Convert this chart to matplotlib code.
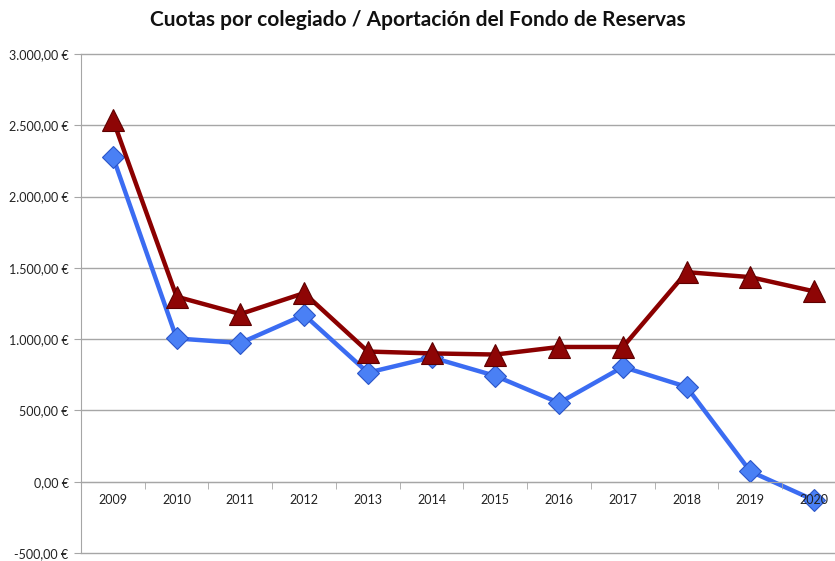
import matplotlib
matplotlib.use("Agg")
import matplotlib.pyplot as plt
from matplotlib.ticker import FuncFormatter, FixedLocator
import numpy as np

years = ["2009", "2010", "2011", "2012", "2013", "2014", "2015", "2016",
         "2017", "2018", "2019", "2020"]
cuotas = [2280, 1005, 973, 1170, 765, 872, 742, 553, 805, 665, 72, -130]
aportacion = [2540, 1298, 1176, 1323, 913, 900, 892, 945, 945, 1470, 1435, 1335]
yticks = [-500, 0, 500, 1000, 1500, 2000, 2500, 3000]

plt.rcParams['font.family'] = ['Lato', 'DejaVu Sans']

fig = plt.figure(figsize=(8.35, 5.61), dpi=100)
ax = fig.add_axes([81/835, 1-553/561, (846-81)/835, (553-54)/561])

x = np.arange(len(years))
ax.plot(x, cuotas, color='#3B6CF2', lw=3.2, marker='D', ms=11,
        markerfacecolor='#4A80F5', markeredgecolor='#2A55C8', markeredgewidth=0.8,
        zorder=2.3, solid_joinstyle='round')
ax.plot(x, aportacion, color='#8B0000', lw=3.2, marker='^', ms=16,
        markerfacecolor='#8E0505', markeredgecolor='#5E0000', markeredgewidth=0.8,
        zorder=2.4, solid_joinstyle='round')

ax.set_xlim(-0.5, len(years) - 0.5)
ax.set_ylim(-500, 3000)
ax.set_yticks(yticks)

def fmt(v, pos):
    s = f"{abs(v):,.2f}".replace(",", "X").replace(".", ",").replace("X", ".")
    return ("-" if v < 0 else "") + s + " €"
ax.yaxis.set_major_formatter(FuncFormatter(fmt))
ax.grid(axis='y', color='#A6A6A6', lw=1, clip_on=False)
ax.set_axisbelow(True)
ax.xaxis.set_zorder(5)

for s in ['top', 'right']:
    ax.spines[s].set_visible(False)
ax.spines['bottom'].set_position(('data', 0))
ax.spines['bottom'].set_color('#A6A6A6')
ax.spines['left'].set_color('#A6A6A6')

ax.set_xticks(x)
ax.set_xticklabels(years)
ax.xaxis.set_minor_locator(FixedLocator(np.arange(-0.5, len(years), 1.0)))
ax.tick_params(axis='x', which='major', length=0, pad=9, labelsize=9, labelcolor='#222222')
ax.tick_params(axis='x', which='minor', length=5, direction='out', color='#A6A6A6')
ax.tick_params(axis='y', length=5, direction='out', color='#A6A6A6', labelsize=9,
               labelcolor='#222222', pad=4)

fig.text(0.5, 1-20/561, "Cuotas por colegiado / Aportación del Fondo de Reservas",
         ha='center', va='center', fontsize=15, fontweight='bold', color='#111111')

fig.savefig("out.png", dpi=100)
